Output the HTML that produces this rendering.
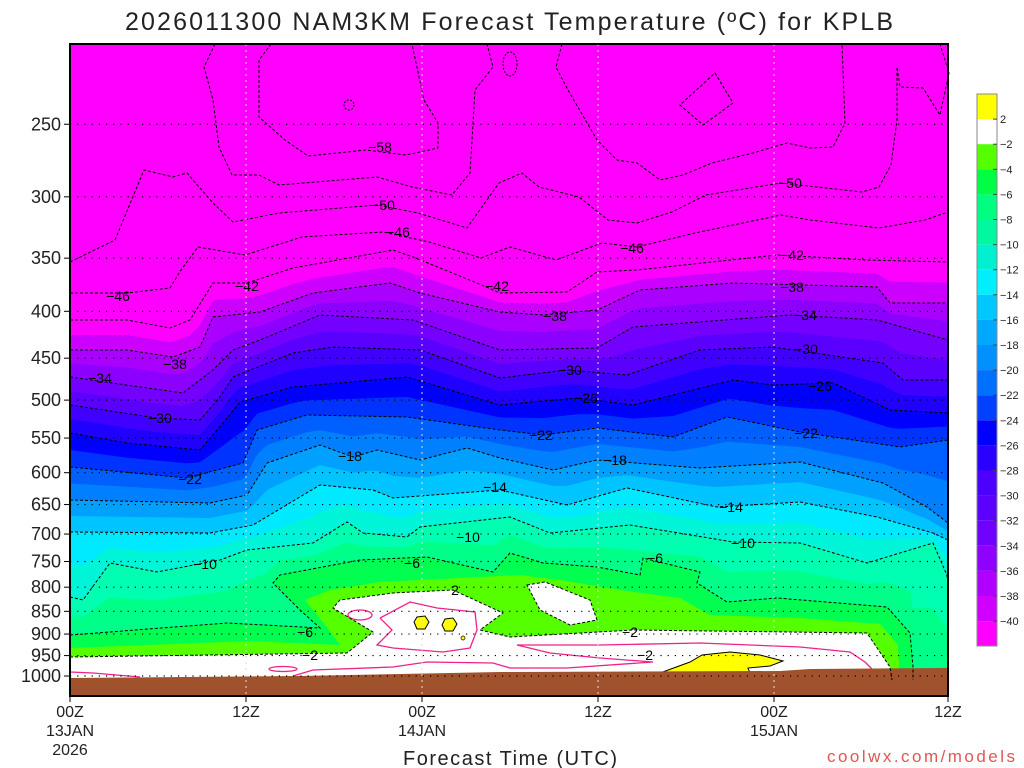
<!DOCTYPE html>
<html><head><meta charset="utf-8"><style>
body{margin:0;background:#fff;width:1024px;height:768px;overflow:hidden}
svg{display:block}
text{font-family:"Liberation Sans",sans-serif}
</style></head><body>
<svg id="s" width="1024" height="768" viewBox="0 0 1024 768" xmlns="http://www.w3.org/2000/svg">
<rect width="1024" height="768" fill="#fff"/>
<text x="125" y="30" font-size="25" fill="#222" textLength="768" lengthAdjust="spacing">2026011300 NAM3KM Forecast Temperature (ºC) for KPLB</text>
<g id="plot"></g>
<g font-size="18" fill="#222" text-anchor="end" id="ylab"></g>
<g font-size="16" fill="#222" text-anchor="middle">
<text x="70" y="717">00Z</text><text x="70" y="736">13JAN</text><text x="70" y="755">2026</text>
<text x="246" y="717">12Z</text>
<text x="422" y="717">00Z</text><text x="422" y="736">14JAN</text>
<text x="598" y="717">12Z</text>
<text x="774" y="717">00Z</text><text x="774" y="736">15JAN</text>
<text x="948" y="717">12Z</text>
</g>
<text x="403" y="765" font-size="20" fill="#222" textLength="214" lengthAdjust="spacing">Forecast Time (UTC)</text>
<text x="827" y="762" font-size="17" fill="#e05555" textLength="188" lengthAdjust="spacing">coolwx.com/models</text>
<g id="cb"></g>
</svg>
<script>
var NS="http://www.w3.org/2000/svg";
var P=document.getElementById('plot');
function el(t,a,par){var e=document.createElementNS(NS,t);for(var k in a)e.setAttribute(k,a[k]);(par||P).appendChild(e);return e;}
function interp(p,x){if(x<=p[0][0])return p[0][1];for(var i=1;i<p.length;i++){if(x<=p[i][0]){var a=p[i-1],b=p[i];return a[1]+(b[1]-a[1])*(x-a[0])/(b[0]-a[0]);}}return p[p.length-1][1];}
function samp(f){var r=[];for(var x=70;x<=948;x+=3)r.push([x,f(x)]);r.push([948,f(948)]);return r;}
function avg(a,b){return samp(function(x){return (interp(a,x)+interp(b,x))/2;});}
function ps(p){return p.map(function(q){return q[0]+','+q[1];}).join(' ');}
function below(p){return ps(p)+' 948,696 70,696';}
var L42=[[70,320],[127,320],[170,328],[190,320],[213,283],[247,283],[293,268],[393,250],[413,257],[477,283],[500,293],[567,292],[597,272],[637,270],[777,255],[867,260],[948,262]];
var L38=[[70,350],[127,350],[173,357],[200,347],[213,317],[260,312],[313,293],[390,283],[420,293],[500,312],[543,315],[597,310],[640,290],[733,283],[877,287],[890,303],[948,303]];
var L34=[[70,377],[183,393],[213,370],[233,350],[260,340],[320,315],[413,320],[500,350],[597,348],[633,327],[790,315],[877,320],[948,340]];
var L30=[[70,405],[157,418],[200,420],[220,397],[233,377],[293,353],[333,347],[420,350],[500,378],[567,370],[627,375],[700,350],[773,347],[883,363],[903,380],[948,380]];
var L26=[[70,433],[127,443],[200,450],[223,423],[240,402],[293,387],[407,377],[500,405],[577,398],[633,405],[733,380],[773,385],[833,383],[890,410],[948,413]];
var L22=[[70,467],[187,478],[243,463],[257,430],[307,415],[407,417],[500,430],[543,435],[597,428],[673,437],[727,417],[800,432],[900,447],[948,440]];
var L18=[[70,500],[210,503],[247,495],[267,463],[320,445],[353,457],[377,450],[420,460],[467,448],[500,458],[553,470],[597,460],[700,468],[800,462],[883,483],[927,507],[948,523]];
var L14=[[70,532],[210,533],[253,525],[320,485],[373,490],[393,498],[500,490],[567,505],[627,488],[717,507],[800,502],[877,517],[933,533],[948,540]];
var L10=[[70,597],[83,600],[110,563],[157,572],[220,560],[247,550],[313,543],[347,522],[363,533],[407,537],[420,527],[510,517],[550,533],[630,525],[733,542],[800,543],[867,563],[933,543],[946,573],[948,580]];
var L6s=[[70,635],[227,623],[265,600],[280,575],[360,560],[427,557],[493,572],[510,553],[543,563],[597,567],[640,575],[700,577],[727,602],[777,598],[887,607],[910,633],[913,667],[948,680]];
var L6=[[70,635],[227,623],[320,628],[300,610],[273,583],[280,575],[360,560],[427,557],[493,572],[510,553],[543,563],[597,567],[640,575],[643,558],[700,572],[697,583],[727,602],[777,598],[887,607],[910,633],[913,667],[913,680]];
var L4=[[70,648],[250,641],[340,645],[325,625],[305,600],[330,590],[380,582],[460,578],[520,575],[560,580],[620,590],[680,598],[710,615],[800,618],[880,624],[898,645],[900,680]];
var L2=[[70,657],[347,653],[373,632],[333,608],[340,600],[393,593],[453,590],[503,613],[480,630],[510,637],[633,630],[867,633],[890,667],[892,680]];
el('rect',{x:70,y:44,width:878,height:652,fill:'#ff00ff'});
var fills=[
[avg(L42,L38),'#cc00ff'],[L38,'#aa00ff'],[avg(L38,L34),'#8c00ff'],[L34,'#7400ff'],[avg(L34,L30),'#5a00ff'],
[L30,'#4000ff'],[avg(L30,L26),'#2000ff'],[L26,'#0000ff'],[avg(L26,L22),'#0033ff'],[L22,'#0060ff'],
[avg(L22,L18),'#0080ff'],[L18,'#00a0ff'],[avg(L18,L14),'#00c4ff'],[L14,'#00eaff'],[avg(L14,L10),'#00f4d8'],
[L10,'#00ffb0'],[avg(L10,L6s),'#00ff88']];
fills.forEach(function(f){el('polygon',{points:below(f[0]),fill:f[1]});});
function bpoly(p,c){var q=ps(p)+' '+p[p.length-1][0]+',696 70,696';el('polygon',{points:q,fill:c});}
bpoly(L6,'#00ff50');bpoly(L4,'#55ff00');bpoly(L2,'#ffffff');
var blob=[[527,585],[545,582],[590,600],[597,620],[570,625],[540,610]];
el('polygon',{points:ps(blob),fill:'#fff',stroke:'#000','stroke-dasharray':'3,2'});
var Y1=[[660,673],[690,662],[702,655],[730,652],[760,655],[783,661],[770,666],[748,668],[750,673]];
el('polygon',{points:ps(Y1),fill:'#ffff00',stroke:'#000','stroke-width':1});
el('polygon',{points:'417,617 425,616 429,622 425,629 417,629 414,622',fill:'#ffff00',stroke:'#000'});
el('polygon',{points:'445,619 453,618 457,624 453,631 445,631 442,625',fill:'#ffff00',stroke:'#000'});
el('circle',{cx:463,cy:638,r:2,fill:'#ffff00',stroke:'#000','stroke-width':0.7});
var pk={fill:'none',stroke:'#ee2288','stroke-width':1.3};
function pl(p,a){var o={points:ps(p)};for(var k in a)o[k]=a[k];el('polyline',o);}
el('ellipse',{cx:360,cy:615,rx:12,ry:5,fill:'none',stroke:'#ee2288','stroke-width':1.3});
pl([[380,618],[392,630],[377,645],[393,648],[443,652],[470,648],[477,630],[475,612],[437,608],[410,602],[380,618]],pk);
pl([[70,672],[93,673],[140,677]],pk);
el('ellipse',{cx:283,cy:669,rx:14,ry:2.5,fill:'none',stroke:'#ee2288','stroke-width':1.3});
pl([[293,676],[313,670],[393,667],[427,662],[493,663],[510,668],[567,668],[653,662],[600,658],[550,653],[517,645],[600,645],[700,643],[800,647],[850,652],[865,662],[877,674]],pk);
el('polygon',{points:'70,678 300,676 500,672 780,671 810,669 948,668 948,696 70,696',fill:'#a0522d'});
var ds={fill:'none',stroke:'#000','stroke-width':1,'stroke-dasharray':'3,2'};
[L42,L38,L34,L30,L26,L22,L18,L14,L10,L6,L2].forEach(function(l){pl(l,ds);});
var L46=[[70,293],[127,293],[170,288],[181,270],[198,247],[245,255],[302,237],[383,232],[429,242],[481,258],[510,247],[556,260],[602,243],[637,247],[695,233],[781,215],[810,220],[879,228],[925,220],[948,212]];
var L50=[[70,262],[115,240],[144,170],[173,177],[187,173],[213,203],[233,222],[279,213],[377,205],[418,213],[467,228],[499,183],[522,173],[539,187],[579,197],[608,220],[637,223],[672,212],[706,195],[781,183],[862,192],[879,187],[891,165],[897,120],[897,67],[900,87],[923,88],[940,115],[949,73],[940,44]];
var L54a=[[215,44],[204,67],[213,100],[219,147],[232,175],[259,175],[279,185],[377,177],[412,187],[452,195],[470,173],[475,90],[493,67],[487,44]];
var L58=[[271,44],[259,60],[259,117],[285,140],[308,156],[366,150],[406,155],[438,148],[438,123],[424,100],[412,44]];
var L54b=[[562,44],[556,67],[568,90],[597,140],[617,160],[637,163],[660,180],[683,175],[712,163],[753,153],[787,143],[810,148],[833,147],[845,123],[842,44]];
[L46,L50,L54a,L58,L54b].forEach(function(l){pl(l,ds);});
el('polygon',{points:'715,73 733,103 703,125 680,105',fill:'none',stroke:'#000','stroke-dasharray':'3,2'});
el('circle',{cx:349,cy:105,r:5,fill:'none',stroke:'#000','stroke-dasharray':'2,1.5'});
el('ellipse',{cx:510,cy:64,rx:7,ry:12,fill:'none',stroke:'#000','stroke-dasharray':'2,1.5'});
var labs=[['-58',380,147],['-50',383,205],['-50',790,183],['-46',398,232],['-46',632,248],['-46',118,296],['-42',247,286],['-42',497,286],['-42',792,255],['-38',175,364],['-38',555,316],['-38',792,287],['-34',100,378],['-34',805,315],['-30',160,418],['-30',570,370],['-30',806,349],['-26',586,398],['-26',820,386],['-22',190,479],['-22',541,435],['-22',806,433],['-18',350,456],['-18',615,460],['-14',495,487],['-14',731,507],['-10',205,564],['-10',468,537],['-10',743,543],['-6',305,632],['-6',412,563],['-6',655,558],['2',455,590],['-2',310,655],['-2',630,632],['-2',645,655]];
labs.forEach(function(l){var t=el('text',{x:l[1],y:l[2]+5,'font-size':14,'text-anchor':'middle',fill:'#000'});t.textContent=l[0].replace('-','\u2212');});
var Y=function(p){return 676-398*Math.log(1000/p);};
var yl=document.getElementById('ylab');
for(var p=250;p<=1000;p+=50){var y=Y(p);el('line',{x1:70,x2:948,y1:y,y2:y,stroke:'#000','stroke-width':1.2,'stroke-dasharray':'1.2,6'});
el('line',{x1:64,x2:70,y1:y,y2:y,stroke:'#000'});
var t=el('text',{x:61,y:y+6},yl);t.textContent=p;}
[246,422,598,774].forEach(function(x){el('line',{x1:x,x2:x,y1:44,y2:696,stroke:'#ddd','stroke-width':1,'stroke-dasharray':'2,4'});el('line',{x1:x,x2:x,y1:696,y2:702,stroke:'#000'});});
el('line',{x1:70,x2:70,y1:696,y2:702,stroke:'#000'});el('line',{x1:948,x2:948,y1:696,y2:702,stroke:'#000'});
el('rect',{x:70,y:44,width:878,height:652,fill:'none',stroke:'#000','stroke-width':2});
var cb=document.getElementById('cb');
var cols=['#ffff00','#ffffff','#55ff00','#00ff44','#00ff80','#00f8a0','#00f0d0','#00eeff','#00c8ff','#00a8ff','#0090ff','#0070ff','#0040ff','#0000ff','#2a00ff','#4c00ff','#5c00ff','#7000ff','#9000ff','#b000ff','#d000ff','#ff00ff'];
var names=['2','-2','-4','-6','-8','-10','-12','-14','-16','-18','-20','-22','-24','-26','-28','-30','-32','-34','-36','-38','-40'];
for(var i=0;i<22;i++){el('rect',{x:977,y:94+i*25.1,width:20,height:25.1,fill:cols[i]},cb);}
el('rect',{x:977,y:94,width:20,height:552,fill:'none',stroke:'#888','stroke-width':1},cb);
for(var i=0;i<21;i++){var yy=94+(i+1)*25.1;el('line',{x1:993,x2:997,y1:yy,y2:yy,stroke:'#444'},cb);
var t=el('text',{x:1000,y:yy+4,'font-size':11,fill:'#222'},cb);t.textContent=names[i].replace('-','\u2212');}
</script>
</body></html>
